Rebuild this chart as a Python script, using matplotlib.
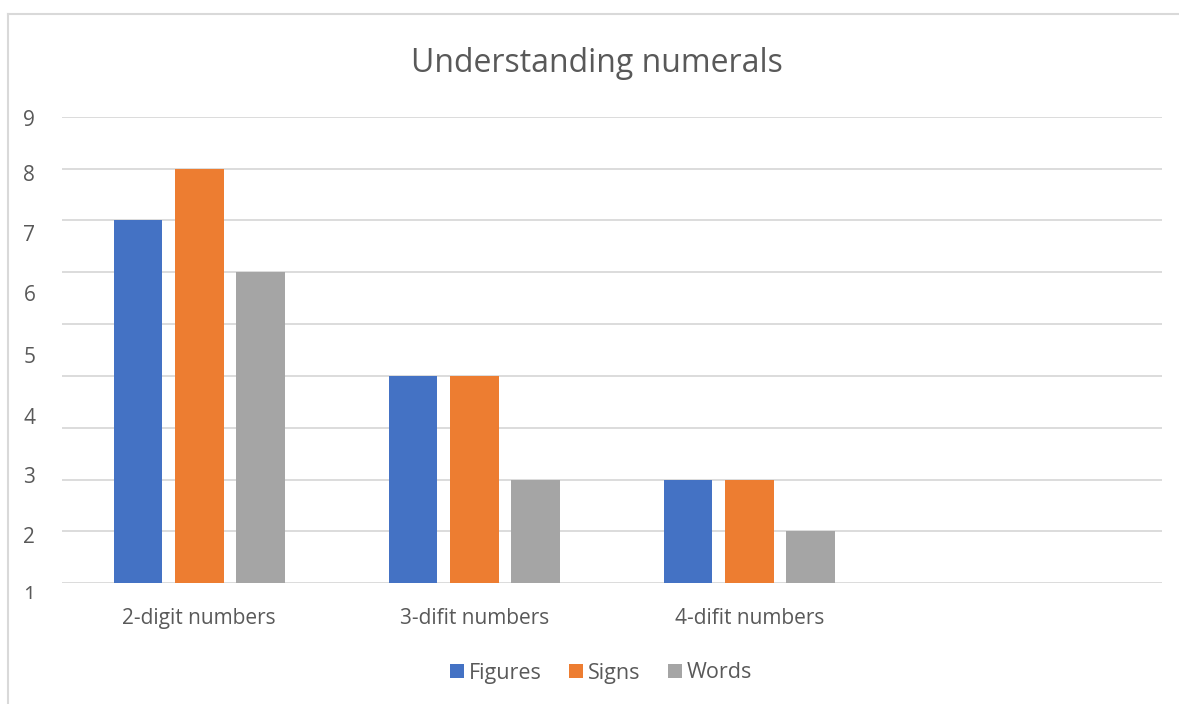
import matplotlib
matplotlib.use("Agg")
import matplotlib.pyplot as plt
from matplotlib.lines import Line2D
from matplotlib.transforms import Bbox, offset_copy
import numpy as np

# ---- data ----
categories = ["2-digit numbers", "3-difit numbers", "4-difit numbers", ""]
series_names = ["Figures", "Signs", "Words"]
figures = [7, 4, 2, np.nan]
signs = [8, 4, 2, np.nan]
words = [6, 2, 1, np.nan]
ytick_labels = ["2", "3", "4", "5", "6", "7", "8", "9"]
ytick_positions = [0.93, 2.09, 3.23, 4.40, 5.60, 6.76, 7.92, 8.97]
bottom_label = "1"
bottom_label_pos = -0.26
colors = ["#4472C4", "#ED7D31", "#A5A5A5"]
title = "Understanding numerals"

plt.rcParams['font.family'] = ['Open Sans', 'DejaVu Sans']
TXT = "#595959"
GRID = "#D9D9D9"

W, H = 1179, 704
fig = plt.figure(figsize=(W / 100, H / 100), dpi=100)
fig.patch.set_facecolor("white")

# chart-area border (cropped at right/bottom)
fig.add_artist(Line2D([8 / W, 8 / W], [0, 1 - 14 / H], color=GRID, lw=1.5))
fig.add_artist(Line2D([8 / W, 1], [1 - 14 / H, 1 - 14 / H], color=GRID, lw=1.5))

x0, x1 = 61.7, 1161.7
ytop, ybot = 116.7, 583.3
ax = fig.add_axes([x0 / W, 1 - ybot / H, (x1 - x0) / W, (ybot - ytop) / H])

x = np.arange(len(categories))
bw = 0.177
pitch = 0.222
for i, (vals, name) in enumerate(zip([figures, signs, words], series_names)):
    ax.bar(x + (i - 1) * pitch, vals, width=bw, color=colors[i], label=name, zorder=3)

for g in range(0, 10):
    ax.axhline(g, color=GRID, lw=1.3, zorder=1)

ax.set_yticks(ytick_positions)
ax.set_yticklabels(ytick_labels)
ax.set_xticks(x)
ax.set_xticklabels(categories)
ax.set_xlim(-0.5, len(categories) - 0.5)
ax.set_ylim(0, 9)
ax.tick_params(axis='y', length=0, pad=19, labelsize=15, labelcolor=TXT)
ax.tick_params(axis='x', length=0, pad=18, labelsize=15, labelcolor=TXT)
for s in ax.spines.values():
    s.set_visible(False)

# bottom "1" label sits below the axis and is partly cut off
tr = offset_copy(ax.get_yaxis_transform(), fig=fig, x=-19, y=0, units='points')
t1 = ax.text(0, bottom_label_pos, bottom_label, transform=tr, ha='right', va='center',
             fontsize=15, color=TXT, clip_on=True)
t1.set_clip_box(Bbox.from_extents(0, H - 598.5, W, H))

fig.text(597 / W, 1 - 63 / H, title, ha='center', va='center', fontsize=23, color=TXT)

leg = fig.legend(loc='center', bbox_to_anchor=(601 / W, 1 - 673 / H), ncol=3, frameon=False,
                 fontsize=15.5, handlelength=0.65, handleheight=0.65, handletextpad=0.2,
                 columnspacing=1.3, borderaxespad=0)
for t in leg.get_texts():
    t.set_color(TXT)

fig.savefig("out.png", dpi=100, facecolor="white")
